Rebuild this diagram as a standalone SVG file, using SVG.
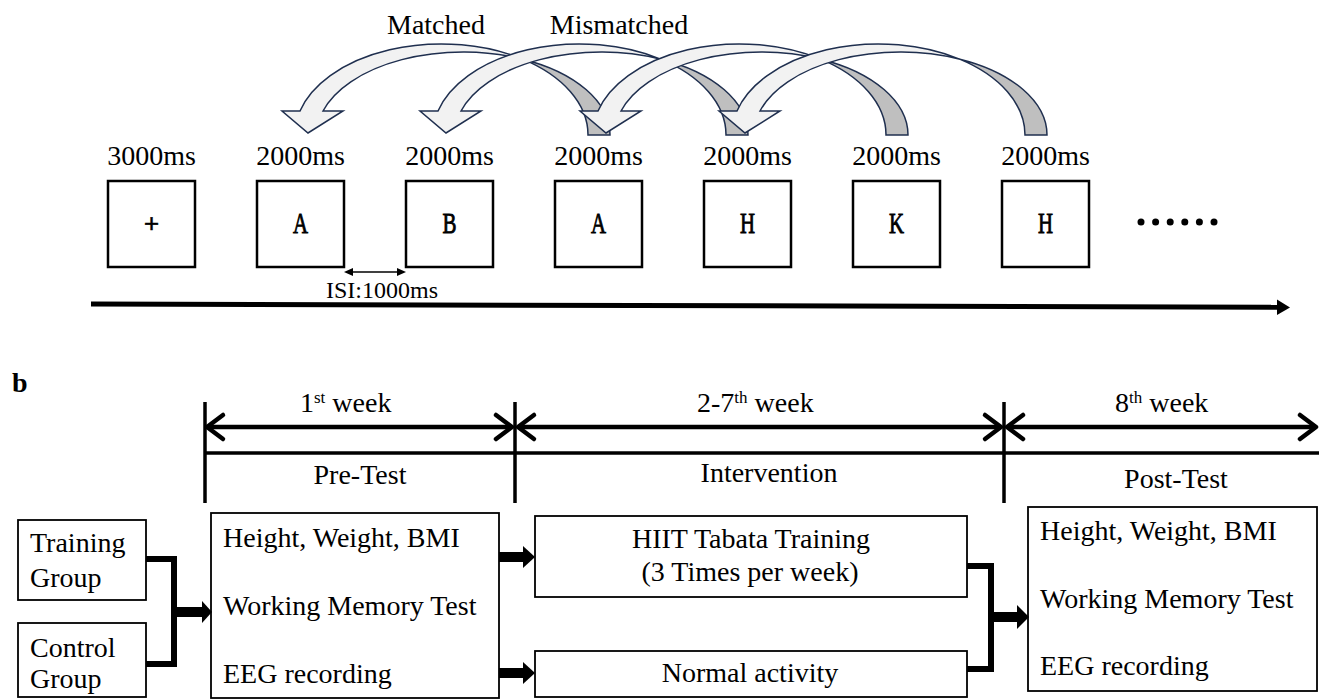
<svg xmlns="http://www.w3.org/2000/svg" xmlns:xlink="http://www.w3.org/1999/xlink" width="1319" height="699" viewBox="0 0 1319 699">
<style>
text{font-family:"Liberation Serif","Times New Roman",serif;fill:#000}
.t28{font-size:28px}
.mid{text-anchor:middle}
.stim{fill:#fff;stroke:#000;stroke-width:2.5}
.box{fill:#fff;stroke:#000;stroke-width:1.8}
.letter{font-size:30px;text-anchor:middle;stroke:#000;stroke-width:0.9}
.front{fill:#f2f2f2;stroke:#1f2f4f;stroke-width:1.5;stroke-linejoin:miter}
.back{fill:#bfbfbf;stroke:#1f2f4f;stroke-width:1.5}
.bracket{fill:none;stroke:#000;stroke-width:6}
.rule{stroke:#000;stroke-width:3.5;fill:none}
.chev{stroke:#000;stroke-width:4.5;fill:none;stroke-linecap:round;stroke-linejoin:round}
</style>
<defs>
<g id="curved">
<path class="back" d="M214,58.9 A146.6 83 0 0 1 302,135 L280,135 A146.6 91 0 0 0 214,58.9 Z"/>
<path class="front" d="M-8,111 A146.6 91 0 0 1 214,58.9 A146.6 83 0 0 0 15,111 L35,111 L0,133 L-26,111 Z"/>
</g>
</defs>

<!-- Part a -->
<g id="labels-a">
<text class="t28 mid" x="436" y="34">Matched</text>
<text class="t28 mid" x="619" y="34">Mismatched</text>
</g>

<g id="curved-arrows">
<use xlink:href="#curved" href="#curved" x="308" y="0"/>
<use xlink:href="#curved" href="#curved" x="446" y="0"/>
<use xlink:href="#curved" href="#curved" x="606" y="0"/>
<use xlink:href="#curved" href="#curved" x="745" y="0"/>
</g>

<g id="stim1"><text class="t28 mid" x="151.5" y="165">3000ms</text><rect class="stim" x="108" y="181" width="87" height="86"/><text class="letter" x="151.5" y="232" style="font-family:'Liberation Mono',monospace;font-size:26px;stroke-width:0.5">+</text></g>
<g id="stim2"><text class="t28 mid" x="300.5" y="165">2000ms</text><rect class="stim" x="257" y="181" width="87" height="86"/><text class="letter" x="300.5" y="233" textLength="15" lengthAdjust="spacingAndGlyphs">A</text></g>
<g id="stim3"><text class="t28 mid" x="449.5" y="165">2000ms</text><rect class="stim" x="406" y="181" width="87" height="86"/><text class="letter" x="449.5" y="233" textLength="14" lengthAdjust="spacingAndGlyphs">B</text></g>
<g id="stim4"><text class="t28 mid" x="598.5" y="165">2000ms</text><rect class="stim" x="555" y="181" width="87" height="86"/><text class="letter" x="598.5" y="233" textLength="15" lengthAdjust="spacingAndGlyphs">A</text></g>
<g id="stim5"><text class="t28 mid" x="747.5" y="165">2000ms</text><rect class="stim" x="704" y="181" width="87" height="86"/><text class="letter" x="747.5" y="233" textLength="15" lengthAdjust="spacingAndGlyphs">H</text></g>
<g id="stim6"><text class="t28 mid" x="896.5" y="165">2000ms</text><rect class="stim" x="853" y="181" width="87" height="86"/><text class="letter" x="896.5" y="233" textLength="15" lengthAdjust="spacingAndGlyphs">K</text></g>
<g id="stim7"><text class="t28 mid" x="1045.5" y="165">2000ms</text><rect class="stim" x="1002" y="181" width="87" height="86"/><text class="letter" x="1045.5" y="233" textLength="15" lengthAdjust="spacingAndGlyphs">H</text></g>

<g id="ellipsis">
<circle cx="1141" cy="222" r="3.5"/><circle cx="1155.6" cy="222" r="3.5"/><circle cx="1170.2" cy="222" r="3.5"/><circle cx="1184.8" cy="222" r="3.5"/><circle cx="1199.4" cy="222" r="3.5"/><circle cx="1214" cy="222" r="3.5"/>
</g>

<g id="isi">
<line x1="351" y1="272" x2="399" y2="272" stroke="#000" stroke-width="1.5"/>
<polygon points="344,272 353,268 353,276"/>
<polygon points="406,272 397,268 397,276"/>
<text x="382" y="298" style="font-size:24px;text-anchor:middle">ISI:1000ms</text>
</g>

<g id="timeline">
<line x1="91" y1="304" x2="1278" y2="307.3" stroke="#000" stroke-width="5"/>
<polygon points="1277,299.5 1290,307.5 1277,315"/>
</g>

<!-- Part b -->
<text x="12" y="392" style="font-size:28px;font-weight:bold">b</text>

<g id="schedule">
<line class="rule" x1="205" y1="402" x2="205" y2="503"/>
<line class="rule" x1="515" y1="402" x2="515" y2="503"/>
<line class="rule" x1="1004" y1="402" x2="1004" y2="503"/>
<line class="rule" x1="205" y1="453" x2="1319" y2="453"/>
<line x1="208" y1="427" x2="512" y2="427" stroke="#000" stroke-width="4.5"/>
<polyline class="chev" points="223,415 207,427 223,439"/>
<polyline class="chev" points="496,415 512,427 496,439"/>
<line x1="518" y1="427" x2="1001" y2="427" stroke="#000" stroke-width="4.5"/>
<polyline class="chev" points="534,415 518,427 534,439"/>
<polyline class="chev" points="985,415 1001,427 985,439"/>
<line x1="1007" y1="427" x2="1316" y2="427" stroke="#000" stroke-width="4.5"/>
<polyline class="chev" points="1023,415 1007,427 1023,439"/>
<polyline class="chev" points="1300,415 1316,427 1300,439"/>
<text class="t28" x="300" y="412">1<tspan style="font-size:17px" dy="-9">st</tspan><tspan dy="9"> week</tspan></text>
<text class="t28" x="697" y="412">2-7<tspan style="font-size:17px" dy="-9">th</tspan><tspan dy="9"> week</tspan></text>
<text class="t28" x="1115" y="412">8<tspan style="font-size:17px" dy="-9">th</tspan><tspan dy="9"> week</tspan></text>
<text class="t28 mid" x="360" y="484">Pre-Test</text>
<text class="t28 mid" x="769" y="482">Intervention</text>
<text class="t28 mid" x="1176" y="488">Post-Test</text>
</g>

<g id="training-group"><rect class="box" x="18" y="520" width="128" height="80"/><text class="t28" x="30" y="552">Training</text><text class="t28" x="30" y="587">Group</text></g>
<g id="control-group"><rect class="box" x="18" y="623" width="128" height="74"/><text class="t28" x="30" y="657">Control</text><text class="t28" x="30" y="688">Group</text></g>
<g id="pre-test"><rect class="box" x="211" y="513" width="288" height="185"/><text class="t28" x="223" y="547">Height, Weight, BMI</text><text class="t28" x="223" y="615">Working Memory Test</text><text class="t28" x="223" y="683">EEG recording</text></g>
<g id="hiit"><rect class="box" x="535" y="516" width="432" height="81"/><text class="t28 mid" x="751" y="548">HIIT Tabata Training</text><text class="t28 mid" x="750" y="581">(3 Times per week)</text></g>
<g id="normal"><rect class="box" x="535" y="651" width="432" height="46"/><text class="t28 mid" x="750" y="682">Normal activity</text></g>
<g id="post-test"><rect class="box" x="1028" y="507" width="289" height="184"/><text class="t28" x="1040" y="540">Height, Weight, BMI</text><text class="t28" x="1040" y="608">Working Memory Test</text><text class="t28" x="1040" y="675">EEG recording</text></g>

<g id="connectors">
<path class="bracket" d="M146,559 H174 V664 H146"/>
<rect x="174" y="607" width="29" height="10"/>
<polygon points="202,601 212,612 202,623"/>
<rect x="499" y="552" width="25" height="10"/>
<polygon points="523,546 535,557 523,568"/>
<rect x="499" y="668" width="25" height="10"/>
<polygon points="523,662 535,673 523,684"/>
<path class="bracket" d="M967,566 H991 V669 H967"/>
<rect x="991" y="612" width="27" height="10"/>
<polygon points="1017,605 1029,617 1017,629"/>
</g>
</svg>
